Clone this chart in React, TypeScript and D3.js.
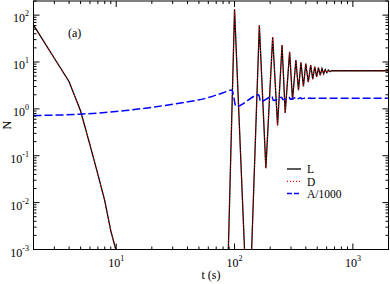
import React from 'react';
import * as d3 from 'd3';

// L (and D) series: time (s) and value
const lT = [2, 4, 5, 6, 7, 8, 9, 10.3, 40, 88, 100, 131, 162, 184, 210, 231, 252, 268, 292, 309, 330, 347, 364, 382, 400, 420, 440, 458, 476, 494, 512, 530, 548, 566, 584, 602, 620, 638, 660, 2000];
const lN = [61, 3.8, 0.9, 0.17, 0.04, 0.011, 0.0025, 0.0007, 1e-6, 0.0005, 134, 1e-5, 61, 0.054, 34, 0.44, 23, 0.82, 16.5, 1.55, 11, 2.5, 9.8, 3.0, 9.3, 3.7, 8.6, 4.3, 8.0, 4.8, 7.6, 5.2, 7.2, 5.6, 6.9, 5.9, 6.7, 6.2, 6.5, 6.5];
// A/1000 series
const aT = [2, 4.9, 12, 20, 34, 60, 80, 95, 103, 160, 166, 207, 213, 250, 256, 290, 296, 330, 336, 364, 370, 400, 406, 440, 446, 480, 2000];
const aN = [0.72, 0.77, 0.92, 1.08, 1.32, 1.74, 2.21, 2.54, 1.12, 1.99, 1.43, 1.83, 1.5, 1.78, 1.57, 1.75, 1.6, 1.74, 1.63, 1.72, 1.64, 1.71, 1.66, 1.7, 1.67, 1.69, 1.69];

const xDecades = [1, 2, 3];
const yDecades = [-3, -2, -1, 0, 1, 2];
const legendLabels = ['L', 'D', 'A/1000'];

const W = 390, H = 284;
const left = 33.5, right = 388.5, top = 1, bottom = 249.5;

export default function App() {
  const x = d3.scaleLog().domain([2, 2000]).range([left, right]);
  const y = d3.scaleLog().domain([1e-3, 200]).range([bottom, top]);
  const lPts: [number, number][] = lT.map((t, i) => [x(t), y(lN[i])]);
  const aPts: [number, number][] = aT.map((t, i) => [x(t), y(aN[i])]);
  const line = d3.line();
  const smooth = d3.line().curve(d3.curveMonotoneX);

  const xMinor: number[] = [];
  for (let e = 0; e <= 3; e++) for (let m = 1; m <= 9; m++) {
    const v = m * Math.pow(10, e);
    if (v >= 2 && v <= 2000 && m !== 1) xMinor.push(v);
  }
  const yMinor: number[] = [];
  for (let e = -3; e <= 2; e++) for (let m = 2; m <= 9; m++) {
    const v = m * Math.pow(10, e);
    if (v <= 200) yMinor.push(v);
  }
  const font = 'Times New Roman, Liberation Serif, serif';
  const major = 6, minor = 3;

  return (
    <svg width={W} height={H} style={{ position: 'absolute', left: 0, top: 0, background: '#fff', fontFamily: font }}>
      <defs>
        <clipPath id="plot">
          <rect x={left} y={top} width={right - left} height={bottom - top} />
        </clipPath>
      </defs>
      <g clipPath="url(#plot)">
        <path d={line(lPts) || ''} fill="none" stroke="#000" strokeWidth={1.3} />
        <path d={line(lPts) || ''} fill="none" stroke="#ff0000" strokeWidth={1} strokeDasharray="1,2" />
        <path d={smooth(aPts) || ''} fill="none" stroke="#0000ff" strokeWidth={1.5} strokeDasharray="8,3" />
      </g>
      <g stroke="#000" strokeWidth={1} fill="none">
        <rect x={left} y={top} width={right - left} height={bottom - top} />
        {xDecades.map(e => {
          const px = x(Math.pow(10, e));
          return <g key={'xd' + e}>
            <line x1={px} x2={px} y1={bottom} y2={bottom - major} />
            <line x1={px} x2={px} y1={top} y2={top + major} />
          </g>;
        })}
        {xMinor.map(v => {
          const px = x(v);
          return <g key={'xm' + v}>
            <line x1={px} x2={px} y1={bottom} y2={bottom - minor} />
            <line x1={px} x2={px} y1={top} y2={top + minor} />
          </g>;
        })}
        {yDecades.map(e => {
          const py = y(Math.pow(10, e));
          return <g key={'yd' + e}>
            <line x1={left} x2={left + major} y1={py} y2={py} />
            <line x1={right} x2={right - major} y1={py} y2={py} />
          </g>;
        })}
        {yMinor.map(v => {
          const py = y(v);
          return <g key={'ym' + v}>
            <line x1={left} x2={left + minor} y1={py} y2={py} />
            <line x1={right} x2={right - minor} y1={py} y2={py} />
          </g>;
        })}
      </g>
      <g fill="#000" fontSize={12}>
        {xDecades.map(e => (
          <text key={'xl' + e} x={x(Math.pow(10, e))} y={267} textAnchor="middle">
            10<tspan dy={-6} fontSize={8}>{e}</tspan>
          </text>
        ))}
        {yDecades.map(e => (
          <text key={'yl' + e} x={29} y={y(Math.pow(10, e)) + 7} textAnchor="end">
            10<tspan dy={-6} fontSize={8}>{e < 0 ? '-' + Math.abs(e) : e}</tspan>
          </text>
        ))}
        <text x={(left + right) / 2} y={279} textAnchor="middle">t (s)</text>
        <text transform={`translate(10.5,${(top + bottom) / 2}) rotate(-90)`} textAnchor="middle">N</text>
        <text x={68} y={37}>(a)</text>
      </g>
      <g fontSize={11.5}>
        {legendLabels.map((lab, i) => {
          const ly = 169 + i * 12.3;
          return <g key={lab}>
            <line x1={287} x2={301} y1={ly} y2={ly}
              stroke={i === 0 ? '#000' : i === 1 ? '#ff0000' : '#0000ff'}
              strokeWidth={i === 2 ? 1.5 : 1.3}
              strokeDasharray={i === 0 ? undefined : i === 1 ? '1,2' : '5,2'} />
            <text x={307} y={ly + 4.2} fill="#000">{lab}</text>
          </g>;
        })}
      </g>
    </svg>
  );
}
